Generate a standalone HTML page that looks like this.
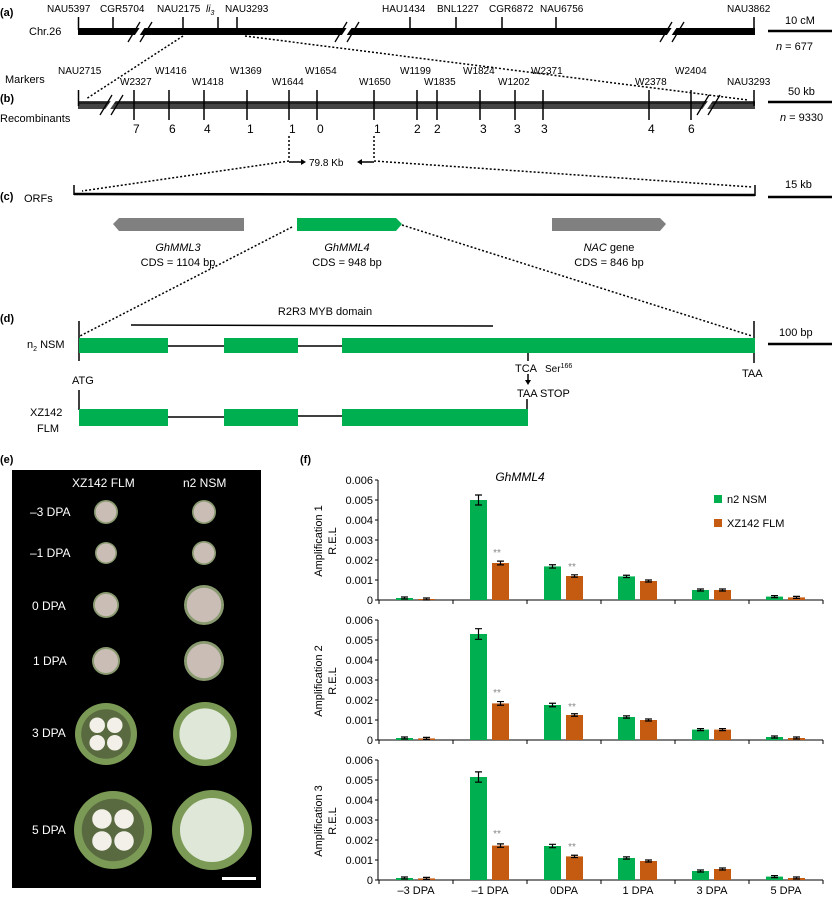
<!DOCTYPE html>
<html><head><meta charset="utf-8"><style>
html,body{margin:0;padding:0;background:#fff;}
svg{display:block;font-family:"Liberation Sans",sans-serif;}
</style></head><body>
<svg id="s" width="832" height="900" viewBox="0 0 832 900" xmlns="http://www.w3.org/2000/svg">
<g font-size="10" fill="#000">
<!-- (a) -->
<text x="0" y="16" font-weight="bold" font-size="11">(a)</text>
<text x="29" y="35" font-size="11">Chr.26</text>
<rect x="78" y="28" width="677" height="7" fill="#000"/>
<g stroke="#000" stroke-width="1.5">
<line x1="78.5" y1="17" x2="78.5" y2="30"/><line x1="113" y1="17" x2="113" y2="30"/><line x1="183" y1="17" x2="183" y2="30"/><line x1="218" y1="17" x2="218" y2="30"/><line x1="237" y1="17" x2="237" y2="30"/><line x1="410" y1="17" x2="410" y2="30"/><line x1="456" y1="17" x2="456" y2="30"/><line x1="502" y1="17" x2="502" y2="30"/><line x1="556" y1="17" x2="556" y2="30"/><line x1="754" y1="17" x2="754" y2="30"/>
</g>
<g stroke="#fff" stroke-width="4"><line x1="134" y1="40" x2="146" y2="22"/><line x1="341" y1="40" x2="353" y2="22"/><line x1="666" y1="40" x2="678" y2="22"/></g>
<g stroke="#000" stroke-width="1.3"><line x1="128" y1="42" x2="140" y2="22"/><line x1="140" y1="42" x2="152" y2="22"/><line x1="335" y1="42" x2="347" y2="22"/><line x1="347" y1="42" x2="359" y2="22"/><line x1="660" y1="42" x2="672" y2="22"/><line x1="672" y1="42" x2="684" y2="22"/></g>
<text x="47" y="12">NAU5397</text><text x="100" y="12">CGR5704</text><text x="157" y="12">NAU2175</text>
<text x="206" y="12" font-style="italic">li<tspan font-size="7" dy="3">3</tspan></text>
<text x="225" y="12">NAU3293</text><text x="382" y="12">HAU1434</text><text x="437" y="12">BNL1227</text><text x="489" y="12">CGR6872</text><text x="540" y="12">NAU6756</text><text x="727" y="12">NAU3862</text>
<line x1="768" y1="31" x2="832" y2="31" stroke="#000" stroke-width="2.5"/>
<text x="785" y="24" font-size="11">10 cM</text>
<text x="776" y="50" font-size="11"><tspan font-style="italic">n</tspan> = 677</text>
<g stroke="#000" stroke-width="1.5" stroke-dasharray="2,2" fill="none">
<line x1="183" y1="36" x2="86" y2="99"/><line x1="245" y1="36" x2="748" y2="100"/>
</g>
<!-- (b) -->
<text x="0" y="102" font-weight="bold" font-size="11">(b)</text>
<text x="5" y="83" font-size="11">Markers</text>
<text x="0" y="122" font-size="11">Recombinants</text>
<rect x="78" y="101" width="677" height="8" fill="#444"/>
<line x1="78" y1="103" x2="755" y2="103" stroke="#222" stroke-width="2"/>
<g stroke="#000" stroke-width="1.5">
<line x1="78.5" y1="90" x2="78.5" y2="106"/><line x1="754" y1="90" x2="754" y2="106"/>
<line x1="134" y1="90" x2="134" y2="120"/><line x1="169" y1="90" x2="169" y2="120"/><line x1="204" y1="90" x2="204" y2="120"/><line x1="247" y1="90" x2="247" y2="120"/><line x1="289" y1="90" x2="289" y2="120"/><line x1="317" y1="90" x2="317" y2="120"/><line x1="374" y1="90" x2="374" y2="120"/><line x1="417" y1="90" x2="417" y2="120"/><line x1="437" y1="90" x2="437" y2="120"/><line x1="480" y1="90" x2="480" y2="120"/><line x1="515" y1="90" x2="515" y2="120"/><line x1="543" y1="90" x2="543" y2="120"/><line x1="649" y1="90" x2="649" y2="120"/><line x1="691" y1="90" x2="691" y2="120"/>
</g>
<g stroke="#fff" stroke-width="4"><line x1="105" y1="113" x2="116" y2="97"/><line x1="702" y1="113" x2="713" y2="97"/></g>
<g stroke="#000" stroke-width="1.3"><line x1="100" y1="115" x2="112" y2="95"/><line x1="111" y1="115" x2="123" y2="95"/><line x1="697" y1="115" x2="709" y2="95"/><line x1="708" y1="115" x2="720" y2="95"/></g>
<text x="58" y="74">NAU2715</text><text x="120" y="85">W2327</text><text x="155" y="74">W1416</text><text x="192" y="85">W1418</text><text x="230" y="74">W1369</text><text x="272" y="85">W1644</text><text x="305" y="74">W1654</text><text x="359" y="85">W1650</text><text x="400" y="74">W1199</text><text x="424" y="85">W1835</text><text x="463" y="74">W1824</text><text x="498" y="85">W1202</text><text x="531" y="74">W2371</text><text x="635" y="85">W2378</text><text x="675" y="74">W2404</text><text x="727" y="85">NAU3293</text>
<g font-size="12"><text x="133" y="133">7</text><text x="169" y="133">6</text><text x="204" y="133">4</text><text x="247" y="133">1</text><text x="289" y="133">1</text><text x="317" y="133">0</text><text x="374" y="133">1</text><text x="414" y="133">2</text><text x="434" y="133">2</text><text x="480" y="133">3</text><text x="514" y="133">3</text><text x="541" y="133">3</text><text x="648" y="133">4</text><text x="688" y="133">6</text></g>
<line x1="768" y1="102" x2="832" y2="102" stroke="#000" stroke-width="2.5"/>
<text x="788" y="95" font-size="11">50 kb</text>
<text x="780" y="121" font-size="11"><tspan font-style="italic">n</tspan> = 9330</text>
<g stroke="#000" stroke-width="1.5" stroke-dasharray="2,2" fill="none">
<line x1="289" y1="136" x2="289" y2="160"/><line x1="374" y1="136" x2="374" y2="160"/>
<line x1="289" y1="161" x2="82" y2="191"/><line x1="374" y1="161" x2="752" y2="187"/>
</g>
<g stroke="#000" stroke-width="1.5"><line x1="289" y1="162" x2="303" y2="162"/><line x1="360" y1="162" x2="374" y2="162"/></g>
<path d="M306 162 l-5 -3 v6 z M357 162 l5 -3 v6 z" fill="#000"/>
<text x="309" y="166">79.8 Kb</text>
<!-- (c) -->
<text x="0" y="200" font-weight="bold" font-size="11">(c)</text>
<text x="24" y="202" font-size="11">ORFs</text>
<line x1="74" y1="194" x2="755" y2="195" stroke="#000" stroke-width="2.5"/>
<line x1="74" y1="185" x2="74" y2="195" stroke="#000" stroke-width="1.5"/>
<line x1="755" y1="185" x2="755" y2="196" stroke="#000" stroke-width="1.5"/>
<line x1="768" y1="197" x2="832" y2="197" stroke="#000" stroke-width="2.5"/>
<text x="785" y="188" font-size="11">15 kb</text>
<polygon points="113,224 119,218 244,218 244,231 119,231" fill="#808080"/>
<polygon points="297,218 396,218 402,224 396,231 297,231" fill="#00b050"/>
<polygon points="552,218 660,218 666,224 660,231 552,231" fill="#808080"/>
<g font-size="11" text-anchor="middle">
<text x="178" y="251" font-style="italic">GhMML3</text><text x="178" y="266">CDS = 1104 bp</text>
<text x="347" y="251" font-style="italic">GhMML4</text><text x="347" y="266">CDS = 948 bp</text>
<text x="609" y="251"><tspan font-style="italic">NAC</tspan> gene</text><text x="609" y="266">CDS = 846 bp</text>
</g>
<!-- (d) -->
<text x="0" y="322" font-weight="bold" font-size="11">(d)</text>
<text x="325" y="315" font-size="11" text-anchor="middle">R2R3 MYB domain</text>
<line x1="131" y1="325" x2="493" y2="326" stroke="#000" stroke-width="1.5"/>
<line x1="79" y1="321" x2="79" y2="361" stroke="#000" stroke-width="1.5"/>
<line x1="754" y1="321" x2="754" y2="344" stroke="#000" stroke-width="1.5"/>
<line x1="754" y1="350" x2="754" y2="363" stroke="#000" stroke-width="1.5"/>
<line x1="168" y1="346" x2="224" y2="346" stroke="#000" stroke-width="1.5"/>
<line x1="298" y1="346" x2="342" y2="346" stroke="#000" stroke-width="1.5"/>
<rect x="79" y="338" width="89" height="15" fill="#00b050"/><rect x="224" y="338" width="74" height="15" fill="#00b050"/><rect x="342" y="338" width="413" height="15" fill="#00b050"/>
<text x="27" y="348" font-size="11">n<tspan font-size="7" dy="3">2</tspan><tspan dy="-3"> NSM</tspan></text>
<line x1="768" y1="344" x2="832" y2="344" stroke="#000" stroke-width="2.5"/>
<text x="779" y="336" font-size="11">100 bp</text>
<text x="72" y="384" font-size="11">ATG</text>
<line x1="528" y1="353" x2="528" y2="361" stroke="#000" stroke-width="1.5"/>
<text x="515" y="372" font-size="11">TCA</text><text x="545" y="372" font-size="10">Ser<tspan font-size="7" dy="-4">166</tspan></text>
<line x1="528" y1="374" x2="528" y2="381" stroke="#000" stroke-width="1.5"/>
<path d="M528 385 l-3 -5 h6 z" fill="#000"/>
<text x="517" y="397" font-size="11">TAA STOP</text>
<text x="742" y="377" font-size="11">TAA</text>
<line x1="79" y1="390" x2="79" y2="410" stroke="#000" stroke-width="1.5"/>
<line x1="527" y1="399" x2="527" y2="410" stroke="#000" stroke-width="1.5"/>
<line x1="168" y1="417" x2="224" y2="417" stroke="#000" stroke-width="1.5"/>
<line x1="298" y1="416" x2="342" y2="416" stroke="#000" stroke-width="1.5"/>
<rect x="79" y="409" width="89" height="17" fill="#00b050"/><rect x="224" y="409" width="74" height="17" fill="#00b050"/><rect x="342" y="409" width="186" height="17" fill="#00b050"/>
<text x="30" y="416" font-size="11">XZ142</text><text x="37" y="432" font-size="11">FLM</text>
</g>
<g stroke="#000" stroke-width="1.5" stroke-dasharray="2,2" fill="none">
<line x1="292" y1="227" x2="80" y2="336"/>
<line x1="402" y1="225" x2="752" y2="336"/>
</g>
<!-- (e) -->
<text x="0" y="463" font-weight="bold" font-size="11">(e)</text>
<rect x="12" y="470" width="249" height="418" fill="#000"/>
<g fill="#fff" font-size="12">
<text x="72" y="487">XZ142 FLM</text><text x="183" y="487">n2 NSM</text>
<text x="30" y="516">–3 DPA</text><text x="30" y="557">–1 DPA</text><text x="32" y="610">0 DPA</text><text x="33" y="665">1 DPA</text><text x="32" y="737">3 DPA</text><text x="32" y="834">5 DPA</text>
</g>
<g id="fruits"></g>
<rect x="222" y="877" width="34" height="3" fill="#fff"/>
<!-- (f) -->
<text x="300" y="463" font-weight="bold" font-size="11">(f)</text>
<text x="520" y="481" font-size="12" font-style="italic" text-anchor="middle">GhMML4</text>
<rect x="714" y="495" width="8" height="8" fill="#00b050"/><text x="727" y="503" font-size="11">n2 NSM</text>
<rect x="714" y="519" width="8" height="8" fill="#c55a11"/><text x="727" y="527" font-size="11">XZ142 FLM</text>
<g id="charts" font-size="11"></g>
<g font-size="11" text-anchor="middle">
<text x="416" y="894">–3 DPA</text><text x="490" y="894">–1 DPA</text><text x="564" y="894">0DPA</text><text x="638" y="894">1 DPA</text><text x="712" y="894">3 DPA</text><text x="786" y="894">5 DPA</text>
</g>
<g font-size="11" text-anchor="middle">
<text transform="translate(322,541) rotate(-90)">Amplification 1</text><text transform="translate(336,541) rotate(-90)">R.E.L</text>
<text transform="translate(322,681) rotate(-90)">Amplification 2</text><text transform="translate(336,681) rotate(-90)">R.E.L</text>
<text transform="translate(322,821) rotate(-90)">Amplification 3</text><text transform="translate(336,821) rotate(-90)">R.E.L</text>
</g>
<g font-size="11" text-anchor="end">
<text x="373" y="484">0.006</text><text x="373" y="504">0.005</text><text x="373" y="524">0.004</text><text x="373" y="544">0.003</text><text x="373" y="564">0.002</text><text x="373" y="584">0.001</text><text x="373" y="604">0</text>
<text x="373" y="624">0.006</text><text x="373" y="644">0.005</text><text x="373" y="664">0.004</text><text x="373" y="684">0.003</text><text x="373" y="704">0.002</text><text x="373" y="724">0.001</text><text x="373" y="744">0</text>
<text x="373" y="764">0.006</text><text x="373" y="784">0.005</text><text x="373" y="804">0.004</text><text x="373" y="824">0.003</text><text x="373" y="844">0.002</text><text x="373" y="864">0.001</text><text x="373" y="884">0</text>
</g>
<g font-size="10" fill="#888" text-anchor="middle">
<text x="497" y="556">**</text><text x="572" y="570">**</text>
<text x="497" y="696">**</text><text x="572" y="710">**</text>
<text x="497" y="837">**</text><text x="572" y="850">**</text>
</g>
</svg>
<script>
var NS="http://www.w3.org/2000/svg",s=document.getElementById('s');
function el(t,a,p){var e=document.createElementNS(NS,t);for(var k in a)e.setAttribute(k,a[k]);(p||s).appendChild(e);return e;}
var data=[
[[.1,.05],[5,1.85],[1.68,1.2],[1.18,.95],[.5,.5],[.17,.13]],
[[.1,.08],[5.3,1.83],[1.75,1.25],[1.15,1],[.52,.52],[.15,.1]],
[[.1,.08],[5.15,1.72],[1.7,1.18],[1.1,.95],[.45,.55],[.17,.1]]];
var zero=[600,740,880],g=document.getElementById('charts');
data.forEach(function(d,i){var z=zero[i];
el('line',{x1:378,y1:z-120,x2:378,y2:z,stroke:'#000','stroke-width':1},g);
el('line',{x1:378,y1:z,x2:823,y2:z,stroke:'#000','stroke-width':1},g);
for(var k=0;k<=6;k++){el('line',{x1:375,y1:z-20*k,x2:378,y2:z-20*k,stroke:'#000'},g);el('line',{x1:379+74*k,y1:z,x2:379+74*k,y2:z+4,stroke:'#000'},g);}
d.forEach(function(v,j){var x=396+74*j;
[[v[0],x,'#00b050'],[v[1],x+22,'#c55a11']].forEach(function(b){var h=b[0]*20;
el('rect',{x:b[1],y:z-h,width:17,height:h,fill:b[2]},g);
var e=Math.max(1,h*0.05);el('path',{d:'M'+(b[1]+5)+' '+(z-h-e)+'h7M'+(b[1]+8.5)+' '+(z-h-e)+'v'+(2*e)+'M'+(b[1]+5)+' '+(z-h+e)+'h7',stroke:'#000','stroke-width':1.2,fill:'none'},g);});});});
var fr=document.getElementById('fruits');
[[106,512,12,204,512,12],[106,553,11,204,553,12],[106,605,13,204,605,20],[106,661,14,204,661,20],[106,734,31,205,734,32],[113,830,39,212,830,40]].forEach(function(r){
[[r[0],r[1],r[2],0],[r[3],r[4],r[5],1]].forEach(function(c){
var big=c[2]>25;
el('circle',{cx:c[0],cy:c[1],r:c[2],fill:big?'#7a9a55':'#8a9a70'},fr);
el('circle',{cx:c[0],cy:c[1],r:c[2]*(big?0.8:0.86),fill:big?(c[3]?'#dfe8d8':'#5a6a40'):'#c9bdb5'},fr);
if(big&&!c[3]){for(var a=0;a<4;a++){var an=a*Math.PI/2+Math.PI/4;el('ellipse',{cx:c[0]+Math.cos(an)*c[2]*0.4,cy:c[1]+Math.sin(an)*c[2]*0.4,rx:c[2]*0.25,ry:c[2]*0.25,fill:'#f2f0e8'},fr);}}
});});
</script>
</body></html>
